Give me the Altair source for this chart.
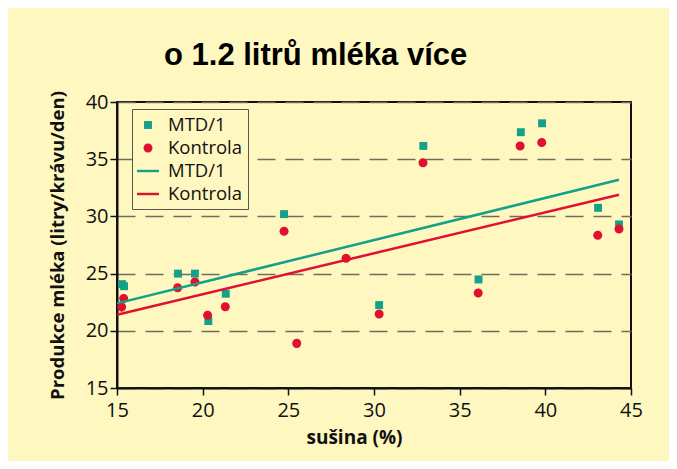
import altair as alt
import pandas as pd

# ---- data ----
mtd_x = [15.29, 15.41, 18.56, 19.55, 20.33, 21.35, 24.75, 30.3, 32.88, 36.1, 38.57, 39.81, 43.08, 44.3]
mtd_y = [24.08, 23.9, 25.0, 25.0, 20.85, 23.24, 30.2, 22.25, 36.16, 24.49, 37.36, 38.14, 30.75, 29.3]

kon_x = [15.27, 15.39, 18.54, 19.55, 20.29, 21.32, 24.75, 25.49, 28.37, 30.3, 32.86, 36.08, 38.53, 39.79, 43.06, 44.3]
kon_y = [22.07, 22.83, 23.76, 24.26, 21.35, 22.1, 28.7, 18.9, 26.35, 21.46, 34.68, 23.3, 36.16, 36.46, 28.36, 28.9]

line_x = [15.0, 44.3]
mtd_line_y = [22.4, 33.2]
kon_line_y = [21.4, 31.9]

series_domain = ["MTD/1|b", "Kontrola|b", "MTD/1|l", "Kontrola|l"]
TEAL = "#14a08a"
RED = "#e0102f"
series_colors = [TEAL, RED, TEAL, RED]

# custom symbol paths in a [-1,1] unit box (unit box = 22 px)
SQUARE = "M-0.36,-0.36H0.36V0.36H-0.36Z"
CIRCLE = "M-0.41,0A0.41,0.41 0 1,0 0.41,0A0.41,0.41 0 1,0 -0.41,0Z"
LINE = "M-1,-0.11H1V0.11H-1Z"
series_shapes = [SQUARE, CIRCLE, LINE, LINE]

x_ticks = [15, 20, 25, 30, 35, 40, 45]
y_ticks = [15, 20, 25, 30, 35, 40]

BG = "#fef8c0"

pts = pd.concat([
    pd.DataFrame({"x": mtd_x, "y": mtd_y, "series": "MTD/1|b"}),
    pd.DataFrame({"x": kon_x, "y": kon_y, "series": "Kontrola|b"}),
])
pts["order"] = [0] * len(mtd_x) + [1] * len(kon_x)

lines = pd.concat([
    pd.DataFrame({"x": line_x, "y": mtd_line_y, "series": "MTD/1|l"}),
    pd.DataFrame({"x": line_x, "y": kon_line_y, "series": "Kontrola|l"}),
])

xscale = alt.Scale(domain=[15, 45], nice=False, zero=False)
yscale = alt.Scale(domain=[15, 40], nice=False, zero=False)
cscale = alt.Scale(domain=series_domain, range=series_colors)
sscale = alt.Scale(domain=series_domain, range=series_shapes)

xaxis = alt.Axis(values=x_ticks, title="sušina (%)", grid=False, labelFlush=False,
                 labelPadding=5, titlePadding=8, titleFontSize=19,
                 titleX=237, titleAlign="center")
yaxis = alt.Axis(values=y_ticks, title="Produkce mléka (litry/krávu/den)", grid=True,
                 labelPadding=2, titlePadding=18, titleFontSize=18.5)

legend = alt.Legend(
    title=None,
    orient="none",
    legendX=15,
    legendY=7,
    labelExpr="split(datum.label, '|')[0]",
    labelFontSize=18.5,
    labelFont="Open Sans",
    labelColor="#111111",
    strokeColor="#555555",
    fillColor=BG,
    padding=5,
    rowPadding=2,
    symbolSize=484,
    symbolStrokeWidth=0,
    symbolOpacity=1,
    labelOffset=9,
)

line_layer = alt.Chart(lines).mark_line(strokeWidth=2.5).encode(
    x=alt.X("x:Q", scale=xscale, axis=xaxis),
    y=alt.Y("y:Q", scale=yscale, axis=yaxis),
    color=alt.Color("series:N", scale=cscale, legend=None),
    detail="series:N",
)

point_layer = alt.Chart(pts).mark_point(filled=True, opacity=1, size=484, strokeWidth=0).encode(
    x=alt.X("x:Q", scale=xscale, axis=xaxis),
    y=alt.Y("y:Q", scale=yscale, axis=yaxis),
    color=alt.Color("series:N", scale=cscale, legend=legend),
    shape=alt.Shape("series:N", scale=sscale, legend=legend),
    order="order:Q",
)

chart = alt.layer(point_layer, line_layer).properties(
    width=514,
    height=286,
    autosize=alt.AutoSizeParams(type="none"),
    padding={"left": 109, "top": 94, "right": 38, "bottom": 73},
    background=BG,
    title=alt.TitleParams(
        "o 1.2 litrů mléka více",
        anchor="start",
        frame="group",
        dx=47,
        fontSize=31,
        font="Liberation Sans",
        fontWeight="bold",
        color="#000000",
        offset=19,
    ),
).configure_view(
    stroke="#111111", strokeWidth=2, fill=BG
).configure_axis(
    labelFont="Open Sans",
    labelFontSize=20,
    labelColor="#111111",
    titleFont="Open Sans",
    titleFontWeight="bold",
    titleColor="#111111",
    domainColor="#111111",
    domainWidth=2,
    tickColor="#111111",
    tickWidth=1.5,
    tickSize=7,
    gridColor="#6f6b60",
    gridWidth=1.5,
    gridDash=[18, 10],
)

chart.save("out.html", embed_options={"renderer": "svg", "actions": False})
